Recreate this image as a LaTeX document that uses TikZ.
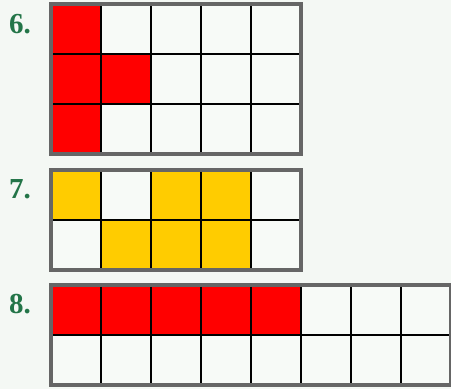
\documentclass[tikz,border=0pt]{standalone}
\usepackage{fontspec}
\setmainfont{Liberation Serif}
\definecolor{bg}{HTML}{F4F8F4}
\definecolor{cellw}{HTML}{F7FAF7}
\definecolor{lbl}{HTML}{237548}
\definecolor{frame}{HTML}{666666}
\definecolor{cred}{HTML}{FF0000}
\definecolor{cyel}{HTML}{FFCC00}
\tikzset{
  lab/.style={anchor=base west, inner sep=0pt, font=\fontsize{29}{29}\selectfont\bfseries, text=lbl},
  cellbox/.style={draw=black!25, line width=0.6pt},
  gridline/.style={draw=black, line width=1.4pt},
  outerframe/.style={draw=frame, line width=3.5pt}
}
\begin{document}
\begin{tikzpicture}[x=1pt,y=-1pt]
\useasboundingbox[fill=bg] (0,0) rectangle (451,389);
% labels
\node[lab] (l6) at (9,33) {6.};
\node[lab] (l7) at (9,198) {7.};
\node[lab] (l8) at (9,313) {8.};
% grid 6: 5x3 at (51,4)
\foreach \c in {0,...,4}{\foreach \r in {0,1,2}{
  \path[cellbox, fill=cellw] (51+50*\c,4+50*\r) rectangle ++(50,50);}}
\foreach \c/\r in {0/0,0/1,1/1,0/2}{
  \path[cellbox, fill=cred] (51+50*\c,4+50*\r) rectangle ++(50,50);}
\foreach \c in {1,...,4}{\draw[gridline] (51+50*\c,4) -- ++(0,150);}
\foreach \r in {1,2}{\draw[gridline] (51,4+50*\r) -- ++(250,0);}
\draw[outerframe] (51,4) rectangle (301,154);
% grid 7: 5x2 at (51,170)
\foreach \c in {0,...,4}{\foreach \r in {0,1}{
  \path[cellbox, fill=cellw] (51+50*\c,170+50*\r) rectangle ++(50,50);}}
\foreach \c/\r in {0/0,2/0,3/0,1/1,2/1,3/1}{
  \path[cellbox, fill=cyel] (51+50*\c,170+50*\r) rectangle ++(50,50);}
\foreach \c in {1,...,4}{\draw[gridline] (51+50*\c,170) -- ++(0,100);}
\draw[gridline] (51,220) -- ++(250,0);
\draw[outerframe] (51,170) rectangle (301,270);
% grid 8: 8x2 at (51,285)
\foreach \c in {0,...,7}{\foreach \r in {0,1}{
  \path[cellbox, fill=cellw] (51+50*\c,285+50*\r) rectangle ++(50,50);}}
\foreach \c in {0,...,4}{
  \path[cellbox, fill=cred] (51+50*\c,285) rectangle ++(50,50);}
\foreach \c in {1,...,7}{\draw[gridline] (51+50*\c,285) -- ++(0,100);}
\draw[gridline] (51,335) -- ++(400,0);
\draw[outerframe] (51,285) rectangle (451,385);
\end{tikzpicture}
\end{document}
